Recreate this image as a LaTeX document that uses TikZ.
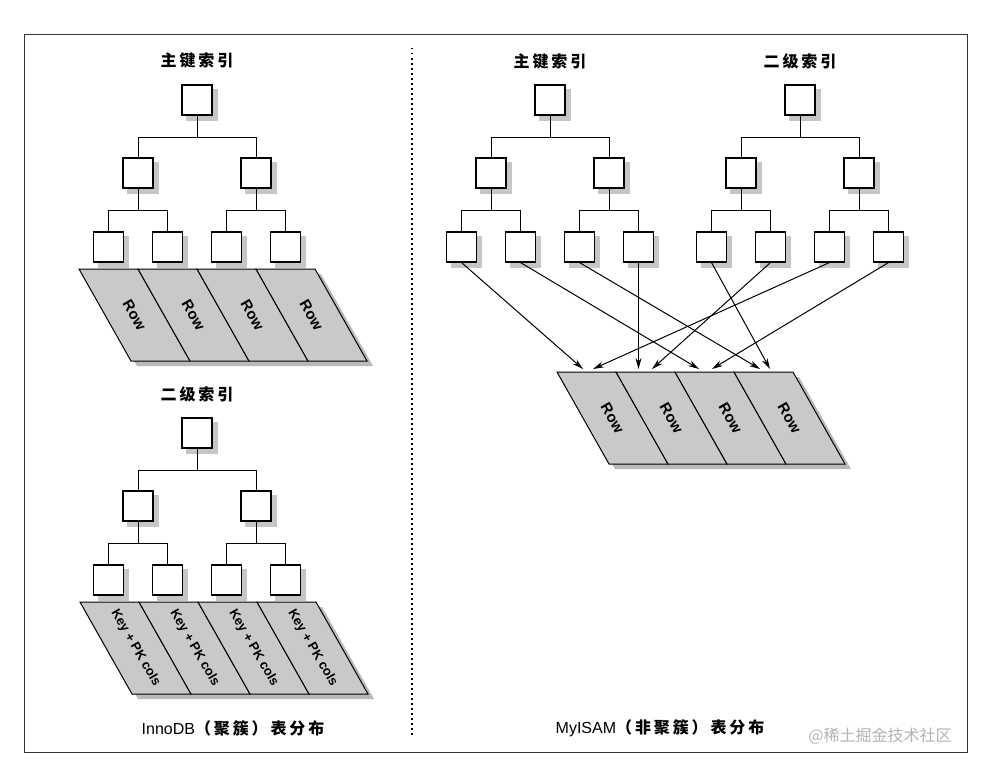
\documentclass[tikz,border=0pt]{standalone}
\usepackage{fontspec}
\setmainfont{Liberation Sans}
\newfontfamily\cjk{Noto Sans CJK SC}
\newfontfamily\cjkwide{Noto Sans CJK SC}[LetterSpace=18]
\usetikzlibrary{arrows.meta,shadows}

\begin{document}
\begin{tikzpicture}[x=1pt, y=-1pt, >={Stealth[length=11pt,width=6pt]},
		pagebox/.style={draw, line width=1.1pt, fill=white, minimum size=30pt, inner sep=0pt,
			drop shadow={shadow xshift=5pt, shadow yshift=-5pt, opacity=1, fill=gray!45, draw=gray!45}},
		treeline/.style={line width=0.9pt},
		rowpanel/.style={draw, line width=1pt, fill=gray!42},
		heading/.style={font=\cjkwide\bfseries\fontsize{16}{19}\selectfont},
		rowlabel/.style={rotate=-60, font=\bfseries\fontsize{15}{17}\selectfont},
		keylabel/.style={rotate=-60, font=\bfseries\fontsize{13}{15}\selectfont}]
		\useasboundingbox (0,0) rectangle (984,768);
		%Frame
		\draw [line width=1.3pt, black!80] (24.5,34.7) rectangle (967.3,752.3);
		\draw [line width=1.6pt, dash pattern=on 1.5pt off 3.5pt] (412,48) -- (412,735);
		%Titles
		\node [heading] (pahead) at (197,60) {主键索引};
		\node [heading] (sahead) at (197,394) {二级索引};
		\node [heading] (pbhead) at (550,61) {主键索引};
		\node [heading] (sbhead) at (800,61) {二级索引};
		%Trees
		\foreach \t/\x/\y in {pa/197/100, sa/197/433, pb/550/100, sb/800/100} {
			\node [pagebox] (\t0) at (\x,\y) {};
			\node [pagebox] (\t1) at (\x-59,\y+73) {};
			\node [pagebox] (\t2) at (\x+59,\y+73) {};
			\node [pagebox] (\t3) at (\x-88.5,\y+147) {};
			\node [pagebox] (\t4) at (\x-29.5,\y+147) {};
			\node [pagebox] (\t5) at (\x+29.5,\y+147) {};
			\node [pagebox] (\t6) at (\x+88.5,\y+147) {};
			\draw [treeline] (\t0.south) -- ++(0,21.5) -| (\t1.north);
			\draw [treeline] (\t0.south) -- ++(0,21.5) -| (\t2.north);
			\draw [treeline] (\t1.south) -- ++(0,22) -| (\t3.north);
			\draw [treeline] (\t1.south) -- ++(0,22) -| (\t4.north);
			\draw [treeline] (\t2.south) -- ++(0,22) -| (\t5.north);
			\draw [treeline] (\t2.south) -- ++(0,22) -| (\t6.north);
		}
		%Rows
		\foreach \g/\x/\y/\lab/\txt in {pr/79/269/rowlabel/Row, sr/80/602/keylabel/Key + PK cols, mr/557/372/rowlabel/Row} {
			\fill [gray!55] (\x+6,\y+5) -- ++(236,0) -- ++(52,92) -- ++(-236,0) -- cycle;
			\foreach \i in {0,...,3} {
				\draw [rowpanel] (\x+59*\i,\y) -- ++(59,0) -- ++(52,92) -- ++(-59,0) -- cycle;
				\node [\lab] (\g\i) at (\x+59*\i+55.5,\y+46) {\txt};
			}
		}
		%Pointers to the rows
		\foreach \a/\b in {pb3/583, pb4/699, pb5/760, pb6/638.5, sb3/770, sb4/652, sb5/593, sb6/712} {
			\coordinate (tip\a) at (\b,369);
			\draw [->, line width=1pt] (\a.south) -- (tip\a);
		}
		%Captions
		\node (leftcap) at (233,728) {\fontsize{16}{19}\selectfont InnoDB\cjkwide\bfseries（聚簇）表分布};
		\node (rightcap) at (660,728) {\fontsize{16}{19}\selectfont MyISAM\cjkwide\bfseries（非聚簇）表分布};
		\node [text=gray!60, font=\cjk\fontsize{16}{19}\selectfont] (mark) at (880,736) {@稀土掘金技术社区};
	\end{tikzpicture}
\end{document}
